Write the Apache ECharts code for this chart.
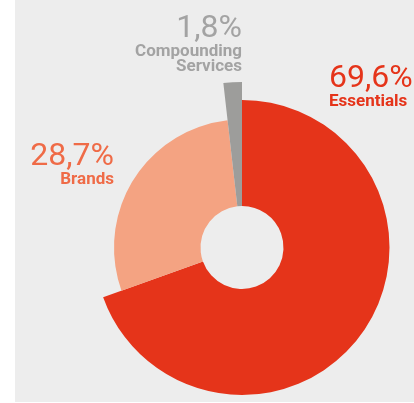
<!DOCTYPE html>
<html>
<head>
<meta charset="utf-8">
<style>
html,body{margin:0;padding:0;background:#fff;}
#c{width:414px;height:403px;}
</style>
<script src="https://cdn.jsdelivr.net/npm/echarts@6/dist/echarts.min.js"></script>
</head>
<body>
<div id="c"></div>
<script>
// Data
var categories = ['Essentials', 'Brands', 'Compounding\nServices'];
var values = [69.6, 28.7, 1.8];
var sliceColors = ['#e5341a', '#f4a382', '#9d9d9b'];
var pctColors = ['#e5341a', '#ef6b47', '#a3a3a3'];
var nameColors = ['#e5341a', '#ef6b47', '#a3a3a3'];
var outerRadii = [147.5, 128, 165.5];
// label placement (layout only)
var labelPos = [
  {x: 329, y: 64, align: 'left'},
  {x: 114, y: 142, align: 'right'},
  {x: 242, y: 14, align: 'right'}
];

var chart = echarts.init(document.getElementById('c'), null, {renderer: 'canvas'});

function fmt(v){ return v.toFixed(1).replace('.', ',') + '%'; }

var series = categories.map(function(cat, si){
  return {
    type: 'pie',
    center: [242, 247.5],
    radius: [41.5, outerRadii[si]],
    startAngle: 90,
    clockwise: true,
    avoidLabelOverlap: false,
    silent: true,
    animation: false,
    labelLine: {show: false},
    emphasis: {disabled: true},
    labelLayout: function(p){
      if (p.dataIndex !== si) return {};
      var lp = labelPos[si];
      return {x: lp.x, y: lp.y, align: lp.align, verticalAlign: 'top'};
    },
    data: categories.map(function(c, di){
      var on = di === si;
      return {
        name: c,
        value: values[di],
        itemStyle: {color: on ? sliceColors[di] : 'rgba(0,0,0,0)', borderWidth: 0},
        label: on ? {
          show: true,
          position: 'outside',
          formatter: '{p|' + fmt(values[di]) + '}\n' + c.split('\n').map(function(s){return '{n|' + s + '}';}).join('\n'),
          align: labelPos[di].align,
          rich: {
            p: {fontFamily: 'Roboto', fontWeight: 'normal', fontSize: 32, lineHeight: 30, color: pctColors[di], align: labelPos[di].align},
            n: {fontFamily: 'Roboto', fontWeight: 'bold', fontSize: 17, lineHeight: 15, color: nameColors[di], align: labelPos[di].align}
          }
        } : {show: false}
      };
    })
  };
});

chart.setOption({
  backgroundColor: '#ffffff',
  animation: false,
  graphic: [{
    type: 'rect',
    z: -10,
    silent: true,
    shape: {x: 15, y: 0, width: 399, height: 402},
    style: {fill: '#ededed'}
  }],
  series: series
});
</script>
</body>
</html>
